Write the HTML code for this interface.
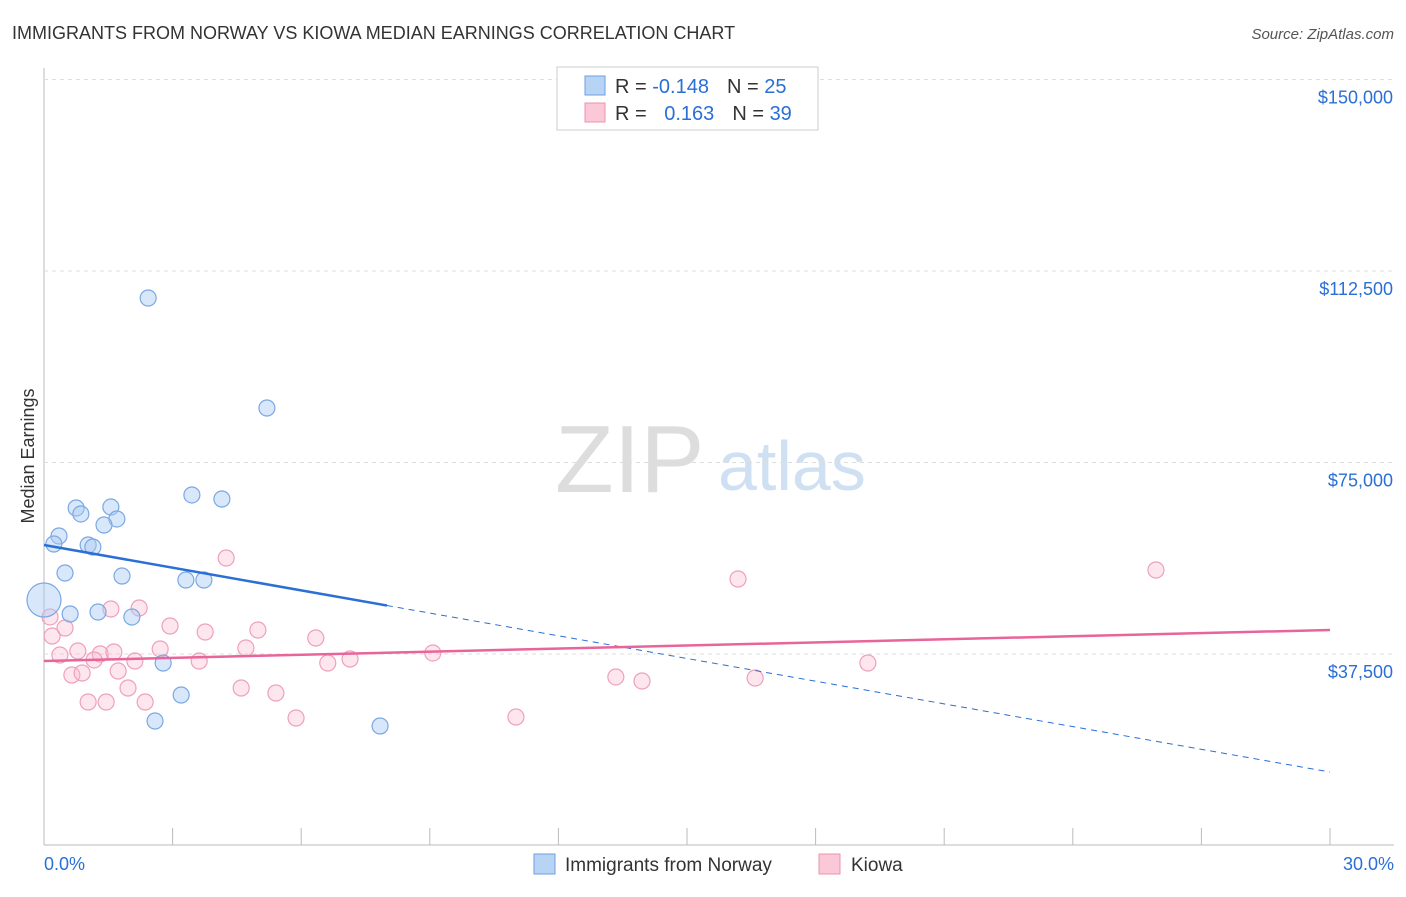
<!DOCTYPE html>
<html><head><meta charset="utf-8"><style>
body{margin:0;background:#fff;font-family:"Liberation Sans",sans-serif}
svg text{font-family:"Liberation Sans",sans-serif}
</style></head><body>
<svg id="c" width="1406" height="892">
<text x="12" y="39" font-size="18" fill="#333">IMMIGRANTS FROM NORWAY VS KIOWA MEDIAN EARNINGS CORRELATION CHART</text>
<text x="1394" y="39" font-size="15" fill="#555" font-style="italic" text-anchor="end">Source: ZipAtlas.com</text>
<text x="555" y="492" font-size="96" fill="#ddd" font-family="Liberation Serif">ZIP</text>
<text x="718" y="490" font-size="70" fill="#cfe0f3">atlas</text>
<text transform="translate(34,456) rotate(-90)" font-size="18" fill="#333" text-anchor="middle">Median Earnings</text>
<g id="grid"></g><g id="pts"></g><g id="lines"></g>
<rect x="557" y="67" width="261" height="63" fill="#fff" stroke="#ccc"/>
<rect x="585" y="76" width="20" height="19" fill="#b8d4f5" stroke="#6d9fe0"/>
<rect x="585" y="103" width="20" height="19" fill="#fbc8d8" stroke="#ec90b0"/>
<text x="615" y="93" font-size="20" fill="#333">R = <tspan fill="#2a6fd6">-0.148</tspan><tspan dx="18">N = </tspan><tspan fill="#2a6fd6">25</tspan></text>
<text x="615" y="120" font-size="20" fill="#333">R = <tspan dx="12" fill="#2a6fd6">0.163</tspan><tspan dx="18">N = </tspan><tspan fill="#2a6fd6">39</tspan></text>
<rect x="534" y="854" width="21" height="20" fill="#b8d4f5" stroke="#6d9fe0"/>
<text x="565" y="871" font-size="19" fill="#333">Immigrants from Norway</text>
<rect x="819" y="854" width="21" height="20" fill="#fbc8d8" stroke="#ec90b0"/>
<text x="851" y="871" font-size="19" fill="#333">Kiowa</text>
<text x="44" y="870" font-size="18" fill="#2a6fd6">0.0%</text>
<text x="1394" y="870" font-size="18" fill="#2a6fd6" text-anchor="end">30.0%</text>
</svg>
<script>
const yTicks=[150000,112500,75000,37500];
const yTickLabels=["$150,000","$112,500","$75,000","$37,500"];
const norwayX=[2.43,5.2,3.45,4.15,0.75,1.56,0.86,1.70,1.40,0.35,1.03,1.14,0.23,0.49,1.82,3.31,3.73,0.61,1.26,2.05,2.78,3.20,2.59,7.84,0.0];
const norwayY=[107210,85670,68640,67850,66090,66280,64920,63940,62760,60610,58850,58450,59040,53360,52770,51990,51990,45330,45720,44750,35740,29470,24380,23400,48070];
const kiowaX=[4.25,16.19,25.94,1.56,2.22,0.14,0.49,2.94,3.76,4.99,6.34,0.37,0.79,1.31,1.63,2.71,4.71,9.07,1.17,2.12,3.62,6.62,7.14,19.22,0.65,0.89,1.73,1.96,4.60,5.41,13.34,13.95,16.59,1.03,1.45,2.36,5.88,11.01,0.19];
const kiowaY=[56300,52190,53950,46310,46510,44750,42590,42980,41810,42200,40630,37300,38090,37500,37890,38480,38680,37700,36330,36130,36130,35740,36520,35740,33390,33780,34170,30840,30840,29860,33000,32210,32800,28100,28100,28100,24970,25160,41020];
const norwayTrend=[58850,14390];
const kiowaTrend=[36130,42200];
const sx=p=>44+p*1286/30;
const sy=v=>845.5-v*191.5/37500;
const NS="http://www.w3.org/2000/svg";
function mk(parent,tag,attrs){const e=document.createElementNS(NS,tag);for(const k in attrs)e.setAttribute(k,attrs[k]);document.getElementById(parent).appendChild(e);return e;}
let a=mk('grid','line',{x1:44,x2:44,y1:68,y2:845,stroke:'#bbb'});


a=mk('grid','line',{x1:44,x2:1394,y1:845,y2:845,stroke:'#bbb'});


yTicks.forEach((t,i)=>{
 const g=mk('grid','line',{x1:44,x2:1394,y1:sy(t),y2:sy(t),stroke:'#ddd','stroke-dasharray':'4,4'});
 
 
 const tx=mk('grid','text',{x:1393,y:sy(t)+24,'font-size':18,fill:'#2a6fd6','text-anchor':'end'});
 tx.textContent=yTickLabels[i];
 
 
});
for(let i=0;i<=10;i++){const t=mk('grid','line',{x1:sx(i*3),x2:sx(i*3),y1:828,y2:845,stroke:'#bbb'});
 
 }
kiowaX.forEach((x,i)=>{const c=mk('pts','circle',{cx:sx(x),cy:sy(kiowaY[i]),r:8,fill:'rgba(248,182,204,0.35)',stroke:'#eea0bb','stroke-width':1.2});
 
 });
norwayX.forEach((x,i)=>{const c=mk('pts','circle',{cx:sx(x),cy:sy(norwayY[i]),r:i==24?17:8,fill:'rgba(170,202,245,0.45)',stroke:'#7aa8e4','stroke-width':1.2});
 
 });
const bAt=p=>norwayTrend[0]+(norwayTrend[1]-norwayTrend[0])*p/30;
let l=mk('lines','line',{x1:sx(0),y1:sy(bAt(0)),x2:sx(8),y2:sy(bAt(8)),stroke:'#2a6fd6','stroke-width':2.5});


l=mk('lines','line',{x1:sx(8),y1:sy(bAt(8)),x2:sx(30),y2:sy(bAt(30)),stroke:'#2a6fd6','stroke-width':1,'stroke-dasharray':'6,5'});


l=mk('lines','line',{x1:sx(0),y1:sy(kiowaTrend[0]),x2:sx(30),y2:sy(kiowaTrend[1]),stroke:'#e8649a','stroke-width':2.5});


</script>
</body></html>
